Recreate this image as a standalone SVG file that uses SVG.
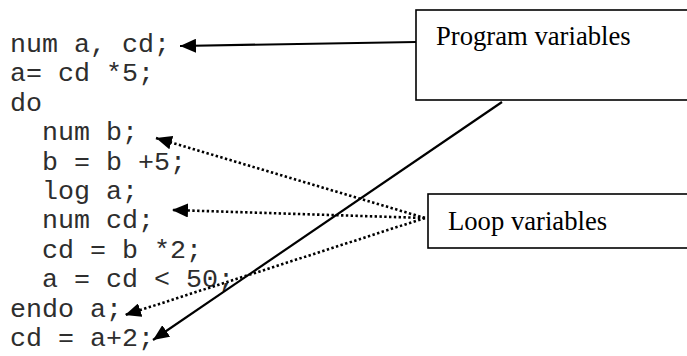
<svg xmlns="http://www.w3.org/2000/svg" width="687" height="356" viewBox="0 0 687 356">
<style>
.code{font-family:"Liberation Mono","Courier New",monospace;font-size:26.67px;fill:#2e2e2e;white-space:pre}
.lbl{font-family:"Liberation Serif","Times New Roman",serif;font-size:26.67px;fill:#000}
.box{fill:#fff;stroke:#000;stroke-width:1.6}
.solid{stroke:#000;stroke-width:2.2;fill:none}
.dot{stroke:#000;stroke-width:2.6;fill:none;stroke-dasharray:2.4 2.4}
</style>
<defs>
<marker id="ah" markerUnits="userSpaceOnUse" markerWidth="17" markerHeight="14" refX="16" refY="7" orient="auto">
<path d="M0,0 L16,7 L0,14 Z" fill="#000"/>
</marker>
</defs>
<rect width="687" height="356" fill="#fff"/>
<g id="code">
<text class="code" x="10" y="52">num a, cd;</text>
<text class="code" x="10" y="81.4">a= cd *5;</text>
<text class="code" x="10" y="110.8">do</text>
<text class="code" x="10" y="140.2">  num b;</text>
<text class="code" x="10" y="169.6">  b = b +5;</text>
<text class="code" x="10" y="199">  log a;</text>
<text class="code" x="10" y="228.4">  num cd;</text>
<text class="code" x="10" y="257.8">  cd = b *2;</text>
<text class="code" x="10" y="287.2">  a = cd &lt; 50;</text>
<text class="code" x="10" y="316.6">endo a;</text>
<text class="code" x="10" y="346">cd = a+2;</text>
</g>
<g id="program-variables">
<rect class="box" x="416" y="10" width="290" height="90"/>
<text class="lbl" x="436" y="45">Program variables</text>
</g>
<g id="loop-variables">
<rect class="box" x="428" y="194" width="290" height="54"/>
<text class="lbl" x="448" y="230">Loop variables</text>
</g>
<g id="connectors">
<line class="solid" x1="416" y1="42" x2="180" y2="46" marker-end="url(#ah)"/>
<line class="solid" x1="502" y1="102" x2="153" y2="340" marker-end="url(#ah)"/>
<line class="dot" x1="425" y1="218" x2="156" y2="138" marker-end="url(#ah)"/>
<line class="dot" x1="425" y1="218" x2="172" y2="210" marker-end="url(#ah)"/>
<line class="dot" x1="425" y1="218" x2="125" y2="315" marker-end="url(#ah)"/>
</g>
</svg>
